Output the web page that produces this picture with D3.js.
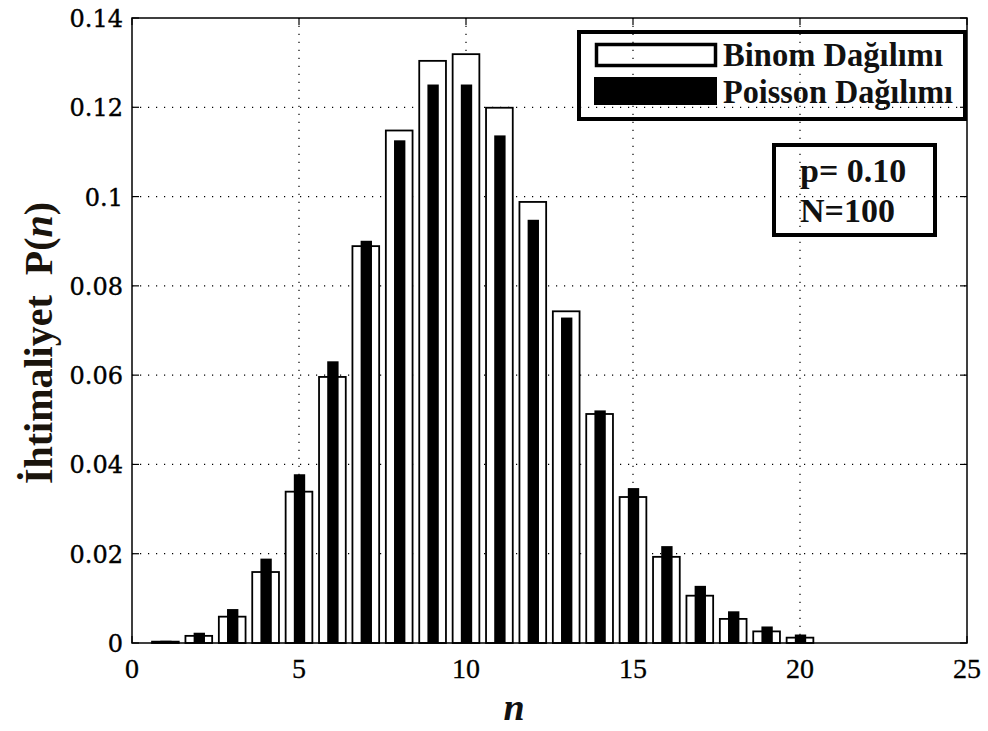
<!DOCTYPE html>
<html lang="tr">
<head>
<meta charset="utf-8">
<title>Binom ve Poisson Dağılımı</title>
<script src="https://d3js.org/d3.v7.min.js"></script>
<style>
  body { margin: 0; background: #fff; }
  svg { display: block; }
</style>
</head>
<body>
<div id="chart"></div>
<script>
var w = 988, h = 731;
var margin = {top: 18, right: 21, bottom: 88, left: 132};

// n degerleri ve olasiliklar (N=100, p=0.10)
var nValues = [1, 2, 3, 4, 5, 6, 7, 8, 9, 10, 11, 12, 13, 14, 15, 16, 17, 18, 19, 20];
var binom = [0.0003, 0.0016, 0.0059, 0.0159, 0.0339, 0.0596, 0.0889, 0.1148, 0.1304, 0.1319,
             0.1199, 0.0988, 0.0743, 0.0513, 0.0327, 0.0193, 0.0106, 0.0054, 0.0026, 0.0012];
var poisson = [0.0005, 0.0023, 0.0076, 0.0189, 0.0378, 0.0631, 0.0901, 0.1126, 0.1251, 0.1251,
               0.1137, 0.0948, 0.0729, 0.0521, 0.0347, 0.0217, 0.0128, 0.0071, 0.0037, 0.0019];
var xTicks = [0, 5, 10, 15, 20, 25];
var yTicks = [0, 0.02, 0.04, 0.06, 0.08, 0.1, 0.12, 0.14];
var legendLabels = ['Binom Dağılımı', 'Poisson Dağılımı'];
var infoLines = ['p= 0.10', 'N=100'];

var svg = d3.select('#chart').append('svg').attr('width', w).attr('height', h);

var x = d3.scaleLinear().domain([0, 25]).range([margin.left, w - margin.right]);
var y = d3.scaleLinear().domain([0, 0.14]).range([h - margin.bottom, margin.top]);

// grid (dotted)
var grid = svg.append('g').attr('stroke', '#000').attr('stroke-width', 1.2)
  .attr('stroke-dasharray', '1.2,6.8');
grid.selectAll('.gx').data(xTicks.slice(1, -1)).enter().append('line')
  .attr('x1', d => x(d)).attr('x2', d => x(d))
  .attr('y1', y(0)).attr('y2', y(0.14));
grid.selectAll('.gy').data(yTicks.slice(1, -1)).enter().append('line')
  .attr('y1', d => y(d)).attr('y2', d => y(d))
  .attr('x1', x(0)).attr('x2', x(25));

// binom bars (white)
var bw = x(0.8) - x(0);
svg.append('g').selectAll('rect').data(nValues).enter().append('rect')
  .attr('x', d => x(d) - bw / 2)
  .attr('y', (d, i) => y(binom[i]))
  .attr('width', bw)
  .attr('height', (d, i) => y(0) - y(binom[i]))
  .attr('fill', '#fff').attr('stroke', '#000').attr('stroke-width', 1.8);

// poisson bars (black)
var pw = x(0.34) - x(0);
svg.append('g').selectAll('rect').data(nValues).enter().append('rect')
  .attr('x', d => x(d) - pw / 2 + 0.5)
  .attr('y', (d, i) => y(poisson[i]))
  .attr('width', pw)
  .attr('height', (d, i) => y(0) - y(poisson[i]))
  .attr('fill', '#000');

// axes box
svg.append('rect').attr('x', x(0)).attr('y', y(0.14))
  .attr('width', x(25) - x(0)).attr('height', y(0) - y(0.14))
  .attr('fill', 'none').attr('stroke', '#000').attr('stroke-width', 1.5);

// inner ticks
var ticks = svg.append('g').attr('stroke', '#000').attr('stroke-width', 1.2);
ticks.selectAll('.tx').data(xTicks).enter().append('line')
  .attr('x1', d => x(d)).attr('x2', d => x(d)).attr('y1', y(0)).attr('y2', y(0) - 7);
ticks.selectAll('.tx2').data(xTicks).enter().append('line')
  .attr('x1', d => x(d)).attr('x2', d => x(d)).attr('y1', y(0.14)).attr('y2', y(0.14) + 7);
ticks.selectAll('.ty').data(yTicks).enter().append('line')
  .attr('y1', d => y(d)).attr('y2', d => y(d)).attr('x1', x(0)).attr('x2', x(0) + 7);
ticks.selectAll('.ty2').data(yTicks).enter().append('line')
  .attr('y1', d => y(d)).attr('y2', d => y(d)).attr('x1', x(25)).attr('x2', x(25) - 7);

// tick labels
svg.append('g').selectAll('text').data(xTicks).enter().append('text')
  .attr('x', d => x(d)).attr('y', y(0) + 35)
  .attr('text-anchor', 'middle')
  .attr('font-family', 'Liberation Serif, serif').attr('font-size', 28)
  .attr('stroke', '#000').attr('stroke-width', 0.3)
  .text(d => d);
svg.append('g').selectAll('text').data(yTicks).enter().append('text')
  .attr('x', x(0) - 9).attr('y', d => y(d) + 9)
  .attr('text-anchor', 'end')
  .attr('font-family', 'DejaVu Serif, serif').attr('font-size', 24)
  .attr('stroke', '#000').attr('stroke-width', 0.4)
  .text(d => d);

// axis titles
svg.append('text').attr('x', 514).attr('y', 720)
  .attr('text-anchor', 'middle').attr('font-family', 'Liberation Serif, serif')
  .attr('font-size', 38).attr('font-weight', 'bold').attr('font-style', 'italic')
  .attr('fill', '#111').text('n');

var yt = svg.append('text').attr('transform', 'translate(52,343) rotate(-90)')
  .attr('text-anchor', 'middle').attr('font-family', 'Liberation Serif, serif')
  .attr('font-size', 40).attr('font-weight', 'bold').attr('fill', '#1a140c');
yt.append('tspan').text('İhtimaliyet\u00a0\u00a0P(');
yt.append('tspan').attr('font-style', 'italic').text('n');
yt.append('tspan').text(')');

// legend
var lg = svg.append('g');
lg.append('rect').attr('x', 579).attr('y', 32).attr('width', 386).attr('height', 87)
  .attr('fill', 'none').attr('stroke', '#000').attr('stroke-width', 4);
lg.append('rect').attr('x', 596.5).attr('y', 44.5).attr('width', 119).attr('height', 21)
  .attr('fill', 'none').attr('stroke', '#000').attr('stroke-width', 3.5);
lg.append('rect').attr('x', 594).attr('y', 77).attr('width', 123).attr('height', 28)
  .attr('fill', '#000');
lg.selectAll('.lt').data(legendLabels).enter().append('text')
  .attr('x', 723).attr('y', (d, i) => 66 + i * 37)
  .attr('font-family', 'Liberation Serif, serif').attr('font-size', 34)
  .attr('font-weight', 'bold').attr('fill', '#111')
  .attr('textLength', (d, i) => i === 0 ? 220 : 230).attr('lengthAdjust', 'spacingAndGlyphs')
  .text(d => d);

// p, N box
var ib = svg.append('g');
ib.append('rect').attr('x', 774).attr('y', 145).attr('width', 161).attr('height', 90)
  .attr('fill', 'none').attr('stroke', '#000').attr('stroke-width', 4);
ib.selectAll('text').data(infoLines).enter().append('text')
  .attr('x', 800).attr('y', (d, i) => 182 + i * 40)
  .attr('font-family', 'Liberation Serif, serif').attr('font-size', 34)
  .attr('font-weight', 'bold').attr('fill', '#111')
  .text(d => d);
</script>
</body>
</html>
